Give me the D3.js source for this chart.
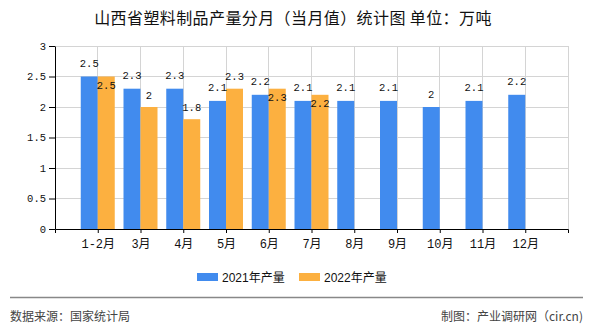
<!DOCTYPE html>
<html><head><meta charset="utf-8">
<script src="https://cdn.jsdelivr.net/npm/d3@7"></script>
<style>
html,body{margin:0;padding:0;background:#fff;}
svg{display:block;}
</style></head>
<body>
<svg id="c" width="590" height="330"></svg>
<script>
const categories = ["1-2月","3月","4月","5月","6月","7月","8月","9月","10月","11月","12月"];
const values2021 = [2.5,2.3,2.3,2.1,2.2,2.1,2.1,2.1,2.0,2.1,2.2];
const values2022 = [2.5,2.0,1.8,2.3,2.3,2.2,null,null,null,null,null];
const yTicks = [0,0.5,1,1.5,2,2.5,3];
const yTickLabels = ["0","0.5","1","1.5","2","2.5","3"];
const seriesNames = ["2021年产量","2022年产量"];
const colors = ["#418bee","#fcb040"];

const svg = d3.select("#c");
const L = 55, R = 568, T = 46, B = 229;
const x = d3.scalePoint().domain(categories).range([L, R]).padding(1);
const y = d3.scaleLinear().domain([0,3]).range([B, T]);
const bw = 17;
const monoFont = "'Liberation Mono','DejaVu Sans Mono','Noto Sans CJK SC',monospace";

// title
svg.append("text").attr("x",293).attr("y",24).attr("text-anchor","middle")
  .attr("font-family","'Noto Sans CJK SC',sans-serif").attr("font-size",16)
  .attr("letter-spacing","0.4").attr("fill","#111")
  .text("山西省塑料制品产量分月（当月值）统计图 单位：万吨");

// gridlines
const grid = svg.append("g");
grid.selectAll("line.h").data(yTicks).join("line")
  .attr("x1",L).attr("x2",R).attr("y1",d=>y(d)).attr("y2",d=>y(d))
  .attr("stroke","#d4d4d4").attr("stroke-width",1).attr("shape-rendering","crispEdges");
grid.selectAll("line.v").data(categories.map(c=>x(c)).concat([R])).join("line")
  .attr("x1",d=>d).attr("x2",d=>d).attr("y1",T).attr("y2",B)
  .attr("stroke","#d4d4d4").attr("stroke-width",1).attr("shape-rendering","crispEdges");

// bars
const g = svg.append("g");
const s1 = categories.map((c,i)=>({c, v:values2021[i], o:values2022[i]}));
const s2 = categories.map((c,i)=>({c, v:values2022[i], o:values2021[i]})).filter(d=>d.v!=null);
g.selectAll("rect.a").data(s1).join("rect")
  .attr("x",d=>x(d.c)-bw).attr("width",bw)
  .attr("y",d=>y(d.v)).attr("height",d=>y(0)-y(d.v)).attr("fill",colors[0]);
g.selectAll("rect.b").data(s2).join("rect")
  .attr("x",d=>x(d.c)).attr("width",bw)
  .attr("y",d=>y(d.v)).attr("height",d=>y(0)-y(d.v)).attr("fill",colors[1]);

// value labels
g.selectAll("text.a").data(s1).join("text")
  .attr("x",d=>x(d.c)-bw/2).attr("y",d=>y(d.v)-9.5)
  .attr("text-anchor","middle").attr("font-family",monoFont).attr("font-size",10.5)
  .attr("fill","#111").text(d=>d3.format("")(d.v));
g.selectAll("text.b").data(s2).join("text")
  .attr("x",d=>x(d.c)+bw/2)
  .attr("y",d=> Math.abs(d.v-d.o) < 0.15 ? y(d.v)+12 : y(d.v)-8.5)
  .attr("text-anchor","middle").attr("font-family",monoFont).attr("font-size",10.5)
  .attr("fill","#111").text(d=>d3.format("")(d.v));

// axes
const ya = svg.append("g").attr("transform",`translate(${L},0)`)
  .call(d3.axisLeft(y).tickValues(yTicks).tickFormat((d,i)=>yTickLabels[i]).tickSize(6).tickSizeOuter(0).tickPadding(3));
ya.select(".domain").attr("stroke","#000");
ya.selectAll(".tick line").attr("stroke","#000");
ya.selectAll("text").attr("font-family",monoFont).attr("font-size",10.5).attr("fill","#111");

const xa = svg.append("g").attr("transform",`translate(0,${B})`)
  .call(d3.axisBottom(x).tickSize(4).tickSizeOuter(4).tickPadding(5));
xa.select(".domain").attr("stroke","#000");
xa.selectAll(".tick line").attr("stroke","#000");
xa.selectAll("text").attr("font-family","'Liberation Mono','Noto Sans CJK SC',monospace")
  .attr("font-size",12).attr("fill","#111").attr("dy","0.8em");

// legend
const leg = svg.append("g");
const legX = [197, 299];
seriesNames.forEach((n,i)=>{
  leg.append("rect").attr("x",legX[i]).attr("y",273).attr("width",21).attr("height",8).attr("fill",colors[i]);
  leg.append("text").attr("x",legX[i]+25).attr("y",282).attr("font-family","'Liberation Sans','Noto Sans CJK SC',sans-serif")
    .attr("font-size",12).attr("fill","#111").text(n);
});

// footer
svg.append("line").attr("x1",10).attr("x2",583).attr("y1",297.5).attr("y2",297.5)
  .attr("stroke","#888").attr("stroke-width",1.5);
svg.append("text").attr("x",10).attr("y",321).attr("font-family","'Noto Sans CJK SC',sans-serif")
  .attr("font-size",12).attr("fill","#444").text("数据来源：国家统计局");
svg.append("text").attr("x",583).attr("y",321).attr("text-anchor","end").attr("font-family","'Noto Sans CJK SC',sans-serif")
  .attr("font-size",12).attr("fill","#444").text("制图：产业调研网（cir.cn)");
</script>
</body></html>
